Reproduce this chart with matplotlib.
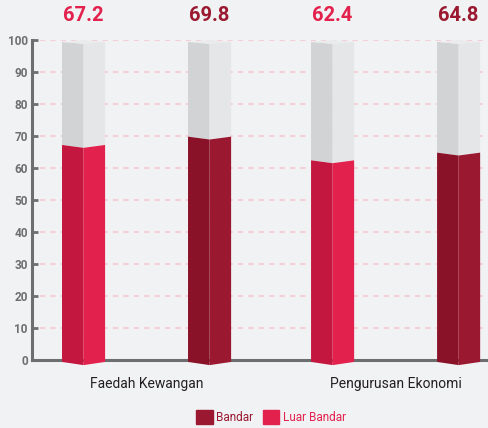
import matplotlib
matplotlib.use("Agg")
import matplotlib.pyplot as plt
from matplotlib.patches import Patch

plt.rcParams['font.family'] = ['Roboto', 'DejaVu Sans']

categories = ["Faedah Kewangan", "Pengurusan Ekonomi"]
series_names = ["Bandar", "Luar Bandar"]
luar_bandar = [67.2, 62.4]
bandar = [69.8, 64.8]
y_ticks = [0, 10, 20, 30, 40, 50, 60, 70, 80, 90, 100]

BG = "#f1f2f4"
PINK = ("#c4173f", "#e2214d")
DARK = ("#8a1228", "#9a1830")
GREY = ("#d2d3d5", "#e5e6e8")
AXIS = "#6d6e70"

OFFSET = 0.253
WIDTH = 0.173
NOTCH = 0.9


def draw_prism(ax, xc, v, cols):
    xl = xc - WIDTH / 2
    xr = xc + WIDTH / 2
    # grey empty part up to 100
    ax.fill([xl, xl, xc, xc], [v, 99.4, 98.8, v - NOTCH], color=GREY[0], lw=0, clip_on=False)
    ax.fill([xc, xc, xr, xr], [v - NOTCH, 98.8, 99.4, v], color=GREY[1], lw=0, clip_on=False)
    ax.fill([xl, xc, xr, xc], [99.4, 98.8, 99.4, 100.0], color="#eaebec", lw=0, clip_on=False)
    # coloured part
    ax.fill([xl, xl, xc, xc], [-0.6, v, v - NOTCH, -1.6], color=cols[0], lw=0, clip_on=False, zorder=3)
    ax.fill([xc, xc, xr, xr], [-1.6, v - NOTCH, v, -0.6], color=cols[1], lw=0, clip_on=False, zorder=3)


fig = plt.figure(figsize=(4.88, 4.28), dpi=100, facecolor=BG)
ax = fig.add_axes([32 / 488, 68 / 428, 456 / 488, 320 / 428])
ax.set_facecolor(BG)

for i in range(len(categories)):
    x_lb = i - OFFSET
    x_b = i + OFFSET
    draw_prism(ax, x_lb, luar_bandar[i], PINK)
    draw_prism(ax, x_b, bandar[i], DARK)
    ax.text(x_lb, 104.6, "%.1f" % luar_bandar[i], ha="center", va="bottom",
            fontsize=14.5, fontweight="bold", color="#e2214d", clip_on=False)
    ax.text(x_b, 104.6, "%.1f" % bandar[i], ha="center", va="bottom",
            fontsize=14.5, fontweight="bold", color="#9a1830", clip_on=False)

ax.set_xlim(-0.46, 1.371)
ax.set_ylim(0, 100)

for y in y_ticks[1:]:
    ax.axhline(y, xmin=8 / 456, color="#f4cfd3", lw=1.5, dashes=(2.5, 2.5), zorder=0)

ax.spines["top"].set_visible(False)
ax.spines["right"].set_visible(False)
ax.spines["left"].set_color(AXIS)
ax.spines["bottom"].set_color(AXIS)
ax.spines["left"].set_linewidth(2.2)
ax.spines["bottom"].set_linewidth(2.2)
ax.spines["bottom"].set_zorder(2)

ax.set_yticks(y_ticks)
ax.tick_params(axis="y", direction="in", length=4, width=2, color=AXIS, pad=3,
               labelsize=8.5, labelcolor=AXIS)
for lbl in ax.get_yticklabels():
    lbl.set_fontweight("bold")

ax.set_xticks(range(len(categories)))
ax.set_xticklabels(categories, fontsize=10, color="#231f20")
ax.tick_params(axis="x", length=0, pad=12)

handles = [Patch(color=DARK[1]), Patch(color=PINK[1])]
leg = fig.legend(handles, series_names, loc="center", bbox_to_anchor=(271 / 488, 11 / 428), ncol=2,
                 frameon=False, fontsize=8.5, labelcolor=[DARK[1], PINK[1]],
                 handlelength=1.4, handleheight=1.4, handletextpad=0.3, columnspacing=0.8)

fig.savefig("out.png", dpi=100, facecolor=BG)
